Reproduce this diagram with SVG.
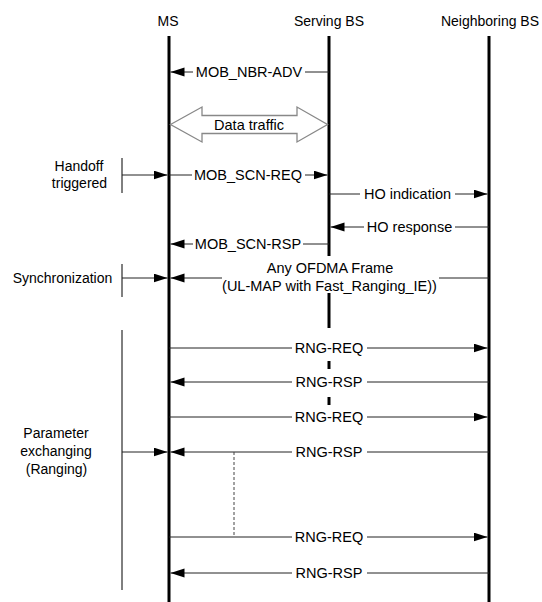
<svg xmlns="http://www.w3.org/2000/svg" width="542" height="602" viewBox="0 0 542 602">
<style>
text{font-family:"Liberation Sans",Arial,sans-serif;font-size:14px;fill:#000}
.t{text-anchor:middle}
.m{font-size:14.5px}
.life{stroke:#000;stroke-width:3;fill:none}
.msg{stroke:#222;stroke-width:1;fill:none}
.br{stroke:#000;stroke-width:1;fill:none}
.arr{marker-end:url(#ah)}
</style>
<defs>
<marker id="ah" markerUnits="userSpaceOnUse" markerWidth="15" markerHeight="10" refX="14" refY="4.5" orient="auto">
<path d="M0,0 L14,4.5 L0,9 z" fill="#000"/>
</marker>
</defs>
<rect width="542" height="602" fill="#fff"/>
<g id="ms">
<text class="t" x="168" y="26">MS</text>
<line class="life" x1="169" y1="36" x2="169" y2="602"/>
</g>
<g id="serving-bs">
<text class="t" x="329" y="26">Serving BS</text>
<line class="life" x1="329" y1="36" x2="329" y2="256"/>
<line class="life" x1="329" y1="293" x2="329" y2="328"/>
<line class="life" x1="329" y1="361" x2="329" y2="369"/>
<line class="life" x1="329" y1="397" x2="329" y2="405"/>
</g>
<g id="neighboring-bs">
<text class="t" x="490" y="26">Neighboring BS</text>
<line class="life" x1="489" y1="36" x2="489" y2="602"/>
</g>
<g id="handoff">
<text class="t" x="79" y="171">Handoff</text>
<text class="t" x="79.5" y="188">triggered</text>
<line class="br" x1="122" y1="158" x2="122" y2="193"/>
</g>
<g id="synchronization">
<text class="t" x="62.5" y="283">Synchronization</text>
<line class="br" x1="122" y1="264" x2="122" y2="297"/>
</g>
<g id="parameter-exchanging">
<text class="t" x="56" y="438">Parameter</text>
<text class="t" x="56" y="456">exchanging</text>
<text class="t" x="56.5" y="474">(Ranging)</text>
<line class="br" x1="122" y1="330" x2="122" y2="590"/>
</g>
<g id="data-traffic">
<polygon points="170.5,124.5 202,107 202,115.5 297,115.5 297,107 327.5,124.5 297,142 297,133.5 202,133.5 202,142" fill="#fff" stroke="#888" stroke-width="1.3"/>
<text class="t m" x="249" y="129.5">Data traffic</text>
</g>
<g id="connectors">
<line class="msg" x1="329" y1="72" x2="305" y2="72"/>
<line class="msg arr" x1="193" y1="72" x2="170.5" y2="72"/>
<text class="t m" x="249" y="77">MOB_NBR-ADV</text>
<line class="msg arr" x1="122" y1="175" x2="167.5" y2="175"/>
<line class="msg" x1="169" y1="175" x2="192" y2="175"/>
<line class="msg arr" x1="305" y1="175" x2="327.5" y2="175"/>
<text class="t m" x="248" y="180">MOB_SCN-REQ</text>
<line class="msg" x1="329" y1="194" x2="360" y2="194"/>
<line class="msg arr" x1="455" y1="194" x2="487.5" y2="194"/>
<text class="t m" x="407.5" y="199">HO indication</text>
<line class="msg" x1="489" y1="227" x2="455" y2="227"/>
<line class="msg arr" x1="364" y1="227" x2="330.5" y2="227"/>
<text class="t m" x="409.5" y="232">HO response</text>
<line class="msg" x1="329" y1="244" x2="303" y2="244"/>
<line class="msg arr" x1="193" y1="244" x2="170.5" y2="244"/>
<text class="t m" x="248" y="249">MOB_SCN-RSP</text>
<line class="msg arr" x1="122" y1="278" x2="167.5" y2="278"/>
<line class="msg" x1="489" y1="278" x2="439" y2="278"/>
<line class="msg arr" x1="222" y1="278" x2="170.5" y2="278"/>
<text class="t m" x="330" y="273">Any OFDMA Frame</text>
<text class="t m" x="329.5" y="291">(UL-MAP with Fast_Ranging_IE))</text>
<line class="msg" x1="169" y1="348" x2="292" y2="348"/>
<line class="msg arr" x1="367" y1="348" x2="487.5" y2="348"/>
<text class="t m" x="329" y="353">RNG-REQ</text>
<line class="msg" x1="489" y1="382" x2="367" y2="382"/>
<line class="msg arr" x1="292" y1="382" x2="170.5" y2="382"/>
<text class="t m" x="329" y="387">RNG-RSP</text>
<line class="msg" x1="169" y1="417" x2="292" y2="417"/>
<line class="msg arr" x1="367" y1="417" x2="487.5" y2="417"/>
<text class="t m" x="329" y="422">RNG-REQ</text>
<line class="msg arr" x1="122" y1="452" x2="167.5" y2="452"/>
<line class="msg" x1="489" y1="452" x2="367" y2="452"/>
<line class="msg arr" x1="292" y1="452" x2="170.5" y2="452"/>
<text class="t m" x="329" y="457">RNG-RSP</text>
<line x1="234" y1="452" x2="234" y2="537" stroke="#444" stroke-width="1" stroke-dasharray="3,2"/>
<line class="msg" x1="169" y1="537" x2="292" y2="537"/>
<line class="msg arr" x1="367" y1="537" x2="487.5" y2="537"/>
<text class="t m" x="329" y="542">RNG-REQ</text>
<line class="msg" x1="489" y1="573" x2="367" y2="573"/>
<line class="msg arr" x1="292" y1="573" x2="170.5" y2="573"/>
<text class="t m" x="329" y="578">RNG-RSP</text>
</g>
</svg>
